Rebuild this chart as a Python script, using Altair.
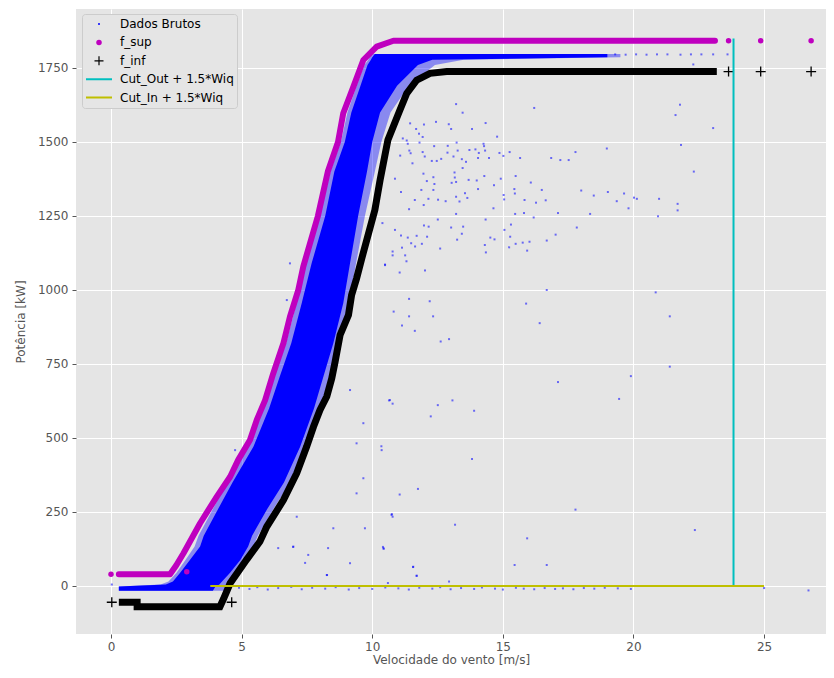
import altair as alt
import pandas as pd

# ---------------- data ----------------
# dense body of the raw-data cloud: for each power level, left and right wind edge
cloud_y  = [-16, -2, 5, 15, 44, 88, 133, 170, 260, 350, 470, 600, 710, 820, 955, 1090,
            1250, 1400, 1500, 1600, 1690, 1760, 1778, 1786, 1797]
cloud_xl = [0.3, 0.3, 2.1, 2.37, 2.64, 3.02, 3.41, 3.55, 4.1, 4.65, 5.45, 6.05, 6.47, 6.9, 7.3, 7.68,
            8.2, 8.55, 8.95, 9.2, 9.55, 9.82, 9.95, 10.0, 10.1]
cloud_xr = [3.9, 4.0, 4.15, 4.25, 4.55, 4.95, 5.25, 5.4, 5.98, 6.62, 7.24, 7.77, 8.14, 8.51, 8.89, 9.15,
            9.46, 9.8, 10.0, 10.3, 10.95, 11.75, 12.3, 19.0, 19.0]
# outer, sparser fringe of the same cloud
fringe_xl = [0.3, 0.3, 1.9, 2.2, 2.5, 2.85, 3.2, 3.35, 3.9, 4.45, 5.25, 5.85, 6.27, 6.7, 7.1, 7.48,
             8.0, 8.4, 8.8, 9.05, 9.4, 9.7, 9.85, 9.9, 10.0]
fringe_xr = [4.5, 4.6, 4.5, 4.5, 4.75, 5.15, 5.45, 5.62, 6.22, 6.86, 7.47, 8.0, 8.38, 8.75, 9.12, 9.38,
             9.72, 10.1, 10.35, 10.7, 11.4, 12.4, 13.5, 19.5, 19.5]

# scattered raw points
raw_x = [13.21, 13.46, 16.20, 21.78, 21.61, 11.45, 11.98, 11.68, 12.44, 12.93, 13.02, 13.82, 14.34, 14.78,
         11.79, 11.93, 11.17, 11.32, 11.36, 11.81, 13.23, 14.26, 14.28, 12.37, 12.89, 11.07, 11.42, 11.47,
         11.54, 12.01, 11.93, 12.28, 12.47, 12.64, 12.88, 13.11, 13.27, 13.43, 13.59, 13.72, 13.95, 14.08,
         14.05, 13.46, 14.32, 14.47, 14.87, 15.02, 15.26, 15.66, 16.85, 17.20, 17.52, 17.78, 18.98, 21.82,
         22.31, 10.87, 11.96, 12.34, 12.38, 12.09, 13.15, 13.16, 13.04, 13.21, 13.69, 14.00, 14.29, 14.92,
         15.49, 16.07, 16.49, 15.44, 15.46, 15.03, 14.66, 14.05, 13.55, 13.64, 13.34, 13.21, 12.81, 12.52,
         12.15, 11.63, 11.97, 11.88, 12.34, 11.10, 11.41, 12.51, 13.21, 14.34, 14.64, 15.05, 15.83, 16.27,
         16.64, 18.00, 18.48, 19.02, 19.64, 19.36, 19.81, 20.02, 20.13, 20.98, 21.69, 21.69, 20.94, 18.34,
         17.11, 15.81, 16.18, 15.47, 10.39, 10.87, 11.98, 12.16, 13.02, 13.48, 13.43, 13.25, 11.10, 11.36,
         11.49, 11.70, 12.10, 11.64, 11.90, 12.60, 11.14, 10.78, 10.78, 11.26, 11.31, 10.49, 11.05, 12.02,
         14.31, 14.35, 14.52, 14.68, 15.06, 15.28, 15.31, 15.24, 15.49, 15.76, 16.02, 15.93, 16.68, 17.02,
         17.83, 16.68, 15.89, 16.41, 20.85, 21.39, 11.41, 10.82, 11.41, 12.20, 12.33, 11.14, 11.63, 12.62,
         12.94,
         10.64, 10.78, 12.51, 13.07, 13.90, 12.24, 17.11, 19.90, 19.45, 21.39, 10.35, 13.82, 11.75, 11.05,
         10.75, 10.78, 13.17, 17.78, 10.44, 15.93, 22.35, 11.56, 11.70, 15.45, 16.68,
         10.49, 10.68, 10.36, 9.66, 9.40, 9.66, 9.40, 8.51, 7.11, 10.74, 9.72, 10.43, 6.98, 7.55, 8.26,
         9.15, 6.73, 6.85, 4.75, 9.15,
         4.9, 5.3, 5.6, 6.0, 6.4, 6.9, 7.3, 7.7, 8.2, 8.6, 9.1, 9.5, 10.0, 10.5, 11.0, 11.4, 11.8, 12.3,
         12.6, 13.0, 13.4, 13.9, 14.2, 14.7, 15.0, 15.5, 15.8, 16.2, 16.6, 17.0, 17.3, 17.7, 18.1, 18.5,
         18.9, 19.4, 19.9,
         6.4, 6.97, 8.31, 7.43, 8.27, 10.41, 10.6, 12.94, 11.70, 11.57,
         19.3, 19.7, 20.1, 20.5, 20.9, 21.3, 21.8, 22.2, 22.6, 23.05, 23.6, 22.29,
         23.05, 26.7, 25.0, 0.03]
raw_y = [1628, 1599, 1615, 1626, 1591, 1563, 1559, 1544, 1568, 1560, 1544, 1544, 1564, 1518,
         1528, 1517, 1512, 1505, 1494, 1498, 1498, 1494, 1486, 1486, 1487, 1454, 1471, 1462,
         1428, 1451, 1466, 1436, 1436, 1443, 1464, 1451, 1471, 1442, 1433, 1473, 1475, 1463,
         1446, 1412, 1471, 1446, 1463, 1453, 1466, 1446, 1446, 1439, 1439, 1466, 1478, 1490,
         1400, 1376, 1393, 1381, 1358, 1368, 1397, 1380, 1362, 1365, 1372, 1370, 1385, 1376,
         1385, 1363, 1338, 1341, 1326, 1321, 1354, 1341, 1327, 1311, 1299, 1315, 1300, 1305,
         1308, 1304, 1287, 1338, 1338, 1331, 1273, 1238, 1257, 1238, 1276, 1306, 1304, 1295,
         1303, 1336, 1319, 1331, 1326, 1300, 1276, 1312, 1308, 1308, 1291, 1269, 1249, 1257,
         1260, 1260, 1245, 1257, 1226, 1203, 1218, 1214, 1211, 1214, 1190, 1170, 1184, 1177,
         1158, 1183, 1180, 1147, 1156, 1140, 1143, 1130, 1117, 1117, 1097, 1086, 1059, 1066,
         1152, 1127, 1177, 1171, 1203, 1180, 1221, 1144, 1156, 1160, 1163, 1133, 1167, 1187,
         1211, 1000, 954, 888, 992, 911, 970, 927, 911, 962, 911, 880, 862, 826,
         834,
         627, 616, 611, 627, 592, 573, 689, 709, 632, 741, 472, 429, 328, 309,
         243, 234, 207, 258, 126, 161, 189, 64, 34, 71, 71,
         1084, 628, 459, 550, 482, 364, 313, 195, 234, 240, 195, 127, 133, 105, 37,
         77, 966, 1090, 459, 662,
         -6, -10, -4, -12, -7, -3, -11, -6, -9, -4, -12, -7, -10, -5, -8, -12, -6, -9,
         -4, -11, -7, -10, -5, -9, -12, -6, -9, -11, -7, -10, -8, -11, -7, -9,
         -6, -8, -10,
         128, 132, 128, 78, 37, 132, 10, 15, 35, 65,
         1796, 1795, 1796, 1795, 1796, 1796, 1795, 1796, 1796, 1796, 1796, 1762,
         1547, -15, -7, 5]

# f_sup (upper limit curve)
fsup_x = [0.3, 2.26, 2.5, 2.77, 3.41, 4.05, 4.56, 4.87, 5.32, 5.58, 5.90, 6.21, 6.60, 6.85, 7.17, 7.36,
          7.92, 8.3, 8.69, 8.89, 9.28, 9.66, 10.17, 10.81, 23.12]
fsup_y = [40, 40, 70, 110, 212, 302, 369, 426, 493, 561, 628, 718, 820, 910, 1000, 1079,
          1250, 1400, 1500, 1597, 1687, 1777, 1822, 1842, 1842]
fsup_px = [0.0, 2.9, 23.64, 24.87, 26.80]
fsup_py = [40, 48, 1842, 1842, 1842]

# f_inf (lower limit curve)
finf_x = [0.3, 1.0, 1.0, 4.17, 4.3, 4.56, 5.2, 5.7, 5.96, 6.6, 7.11, 7.49, 7.75, 8.0, 8.26, 8.45, 8.58,
          8.77, 9.09, 9.21, 9.4, 9.6, 10.1, 10.3, 10.6, 11.06, 11.32, 11.7, 12.21, 12.85, 23.19]
finf_y = [-55, -55, -70, -70, -45, 9, 90, 150, 200, 290, 381, 471, 538, 595, 640, 701, 758,
          848, 915, 983, 1039, 1107, 1270, 1371, 1507, 1608, 1664, 1709, 1732, 1738, 1738]
finf_px = [0.03, 4.62, 23.64, 24.87, 26.80]
finf_py = [-55, -55, 1738, 1738, 1738]

# limit lines
cut_out_x = [23.83, 23.83]
cut_out_y = [0, 1850]
cut_in_x = [3.8, 25.0]
cut_in_y = [0, 0]

legend_names = ["Dados Brutos", "f_sup", "f_inf", "Cut_Out + 1.5*Wiq", "Cut_In + 1.5*Wiq"]
legend_colors = ["#0000FF", "#BF00BF", "#000000", "#00BFBF", "#BFBF00"]

x_ticks = [0, 5, 10, 15, 20, 25]
y_ticks = [0, 250, 500, 750, 1000, 1250, 1500, 1750]

# ---------------- chart ----------------
XDOM = [-1.34, 27.37]
YDOM = [-162.2, 1949.3]
PLUS = "M-1,0L1,0M0,-1L0,1"


def xe(field="x"):
    return alt.X(f"{field}:Q", scale=alt.Scale(domain=XDOM, nice=False, zero=False),
                 axis=alt.Axis(title="Velocidade do vento [m/s]", values=x_ticks, format="d"))


def ye(field="y"):
    return alt.Y(f"{field}:Q", scale=alt.Scale(domain=YDOM, nice=False, zero=False),
                 axis=alt.Axis(title="Potência [kW]", values=y_ticks, format="d"))


fringe = alt.Chart(pd.DataFrame({"y": cloud_y, "xl": fringe_xl, "xr": fringe_xr})).mark_area(
    orient="horizontal", color="#0000FF", opacity=0.4).encode(
    y=ye("y"), x=xe("xl"), x2=alt.X2("xr:Q"))

cloud = alt.Chart(pd.DataFrame({"y": cloud_y, "xl": cloud_xl, "xr": cloud_xr})).mark_area(
    orient="horizontal", color="#0000FF", opacity=1).encode(
    y=ye("y"), x=xe("xl"), x2=alt.X2("xr:Q"))

raw = alt.Chart(pd.DataFrame({"x": raw_x, "y": raw_y})).mark_square(
    size=4, color="#0000FF", opacity=0.55).encode(x=xe(), y=ye())

fsup = alt.Chart(pd.DataFrame({"x": fsup_x, "y": fsup_y, "o": list(range(len(fsup_x)))})).mark_line(
    color="#BF00BF", strokeWidth=6, strokeCap="round", strokeJoin="round").encode(
    x=xe(), y=ye(), order="o:Q")
fsup_pts = alt.Chart(pd.DataFrame({"x": fsup_px, "y": fsup_py})).mark_circle(
    color="#BF00BF", size=30, opacity=1).encode(x=xe(), y=ye())

finf = alt.Chart(pd.DataFrame({"x": finf_x, "y": finf_y, "o": list(range(len(finf_x)))})).mark_line(
    color="#000000", strokeWidth=7, strokeJoin="miter").encode(
    x=xe(), y=ye(), order="o:Q")
finf_pts = alt.Chart(pd.DataFrame({"x": finf_px, "y": finf_py})).mark_point(
    shape=PLUS, size=100, stroke="#000000", strokeWidth=1.3, filled=False, opacity=1).encode(
    x=xe(), y=ye())

cut_out = alt.Chart(pd.DataFrame({"x": cut_out_x[:1], "y": cut_out_y[:1], "y2": cut_out_y[1:]})).mark_rule(
    color="#00BFBF", strokeWidth=2).encode(x=xe(), y=ye(), y2="y2:Q")
cut_in = alt.Chart(pd.DataFrame({"x": cut_in_x[:1], "x2": cut_in_x[1:], "y": cut_in_y[:1]})).mark_rule(
    color="#BFBF00", strokeWidth=2).encode(x=xe(), x2="x2:Q", y=ye())

leg_scale_dom = legend_names
lg = alt.Legend(title=None)
legend_layer = alt.Chart(pd.DataFrame({"serie": legend_names})).mark_point(
    filled=True, clip=True, opacity=1).encode(
    x=alt.value(-300), y=alt.value(-300),
    fill=alt.Fill("serie:N", scale=alt.Scale(domain=leg_scale_dom, range=legend_colors), legend=lg),
    stroke=alt.Stroke("serie:N", scale=alt.Scale(domain=leg_scale_dom, range=legend_colors), legend=lg),
    shape=alt.Shape("serie:N", scale=alt.Scale(domain=leg_scale_dom,
                                               range=["circle", "circle", PLUS, "stroke", "stroke"]), legend=lg),
    size=alt.Size("serie:N", scale=alt.Scale(type="ordinal", domain=leg_scale_dom,
                                             range=[4, 30, 81, 676, 676]), legend=lg),
    strokeWidth=alt.StrokeWidth("serie:N", scale=alt.Scale(type="ordinal", domain=leg_scale_dom,
                                                           range=[0, 0, 1.2, 2, 2]), legend=lg),
)

chart = alt.layer(fringe, cloud, raw, fsup, fsup_pts, finf, finf_pts, cut_out, cut_in,
                  legend_layer).properties(
    width=750, height=625,
    autosize=alt.AutoSizeParams(type="none"),
    padding={"left": 68, "top": 1, "right": 0, "bottom": 36},
    background="#FFFFFF",
).configure_view(
    fill="#E5E5E5", strokeWidth=0
).configure_axis(
    grid=True, gridColor="#FFFFFF", gridWidth=1, domain=False,
    tickColor="#555555", tickSize=4, tickWidth=1,
    labelColor="#555555", titleColor="#555555", labelFontSize=12, titleFontSize=12,
    labelFont="DejaVu Sans", titleFont="DejaVu Sans", titleFontWeight="normal", labelPadding=4,
).configure_axisX(
    titlePadding=2, labelPadding=3
).configure_axisY(
    titlePadding=10
).configure_legend(
    orient="none", legendX=6, legendY=5, fillColor="#E5E5E5", strokeColor="#CCCCCC",
    cornerRadius=3, padding=3, labelFontSize=12, labelColor="#000000", labelFont="DejaVu Sans",
    clipHeight=14, rowPadding=4.4, labelOffset=7, symbolOpacity=1
)

chart.save("out.html", embed_options={"renderer": "svg", "actions": False})
